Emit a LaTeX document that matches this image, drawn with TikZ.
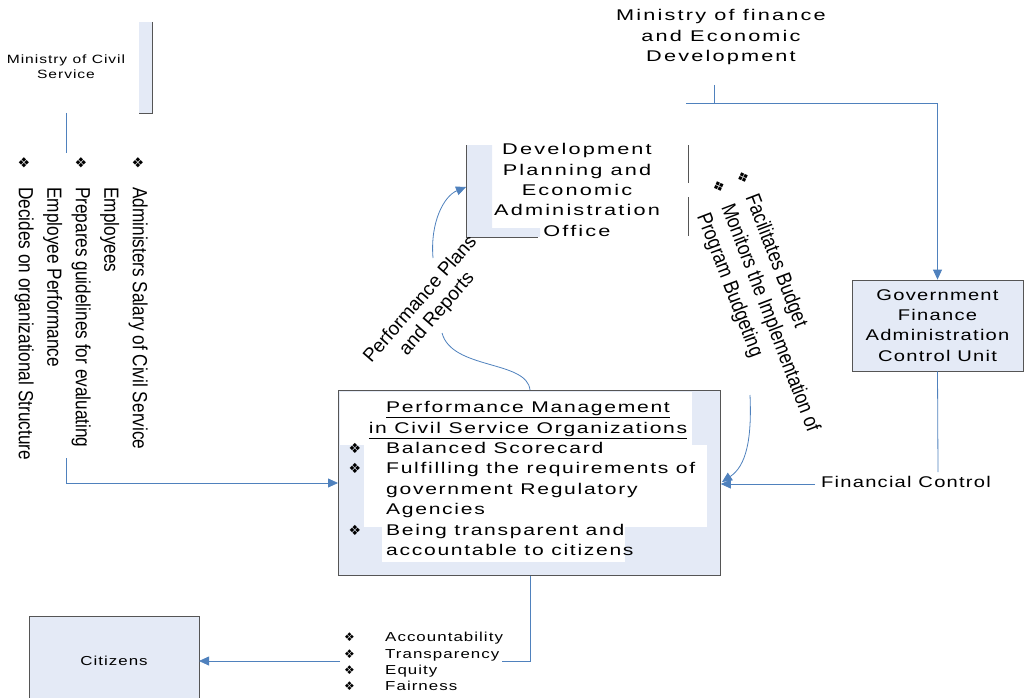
\documentclass[tikz,border=0pt]{standalone}
\usepackage{fontspec}
\setmainfont{Liberation Sans}[FakeStretch=1.3,LetterSpace=8]
\newfontfamily\widefont{Liberation Sans}[FakeStretch=1.4,LetterSpace=14]
\newfontfamily\pmfont{Liberation Sans}[FakeStretch=1.36,LetterSpace=11]
\newfontfamily\narrowfont{Liberation Sans}[FakeStretch=0.84]
\newfontfamily\plainfont{Liberation Sans}
\newfontfamily\bulfont{DejaVu Sans}
\usetikzlibrary{arrows.meta}

\definecolor{boxfill}{RGB}{228,234,246}
\definecolor{boxline}{RGB}{85,85,85}
\definecolor{linkblue}{RGB}{79,129,189}
\newcommand{\bul}{{\bulfont\fontsize{14}{14}\selectfont\char"2756}}
\newcommand{\sbul}{{\bulfont\fontsize{12}{12}\selectfont\char"2756}}

\begin{document}
\begin{tikzpicture}[x=1pt,y=-1pt,
    conn/.style={draw=linkblue, line width=0.8pt},
    arr/.style={conn, -{Triangle[length=10pt,width=9pt]}, fill=none},
    box/.style={draw=boxline, fill=boxfill, line width=0.8pt},
    lbl/.style={inner sep=0pt, align=center},
  ]
\useasboundingbox (0,0) rectangle (1027,698);

% Ministry of Civil Service
\fill[boxfill] (139,22) rectangle (152,113);
\draw[boxline, line width=0.8pt] (152,22) -- (152,113) -- (139,113);
\node[lbl, font=\fontsize{12}{15}\selectfont] (mcs) at (66,67) {Ministry of Civil\\Service};
\node[lbl, align=left, rotate=-90, anchor=north west,
      font=\narrowfont\fontsize{20.5}{28.5}\selectfont] (tasks) at (148,156)
  {\makebox[31pt][l]{\bul}Administers Salary of Civil Service\\
   \hspace*{31pt}Employees\\
   \makebox[31pt][l]{\bul}Prepares guidelines for evaluating\\
   \hspace*{31pt}Employee Performance\\
   \makebox[31pt][l]{\bul}Decides on organizational Structure};
\coordinate (civA) at (66,113);
\coordinate (civB) at (66,153);
\coordinate (civC) at (66,458);
\draw[conn] (civA) -- (civB);

% Development Planning and Economic Administration Office
\fill[boxfill] (466,145) -- (492,145) -- (492,228) -- (540,228) -- (540,237) -- (466,237) -- cycle;
\draw[boxline, line width=0.8pt] (466,145) -- (466,237) -- (538,237);
\draw[boxline, line width=0.8pt] (688,145) -- (688,183) (688,197) -- (688,236);
\node[lbl, font=\widefont\fontsize{15.5}{20.3}\selectfont] (dpo) at (577,190)
  {Development\\Planning and\\Economic\\Administration\\Office};

% Ministry of finance
\node[lbl, font=\widefont\fontsize{15.5}{20.5}\selectfont] (mfed) at (721,37)
  {Ministry of finance\\and Economic\\Development};
\coordinate (finA) at (714,85);
\coordinate (finB) at (714,103);
\coordinate (finL) at (686,103);

% Government Finance Administration Control Unit
\node[box, lbl, minimum width=171pt, minimum height=91pt,
      font=\fontsize{15.5}{20.3}\selectfont] (gfacu) at (937.5,325.5)
  {Government\\Finance\\Administration\\Control Unit};
\node[lbl, font=\fontsize{15.5}{20}\selectfont] (fc) at (906,482) {Financial Control};
\coordinate (fcA) at (938,472);
\coordinate (fcB) at (815,484);

% Performance Management box
\node[box, minimum width=382pt, minimum height=185pt, anchor=north west] (pm) at (338,390) {};
\fill[white] (340,392) rectangle (692,445);
\fill[white] (364,445) rectangle (707,527);
\fill[white] (382,527) rectangle (625,562);
\node[lbl, font=\pmfont\fontsize{15.5}{20.5}\selectfont] (pmtitle) at (528,420)
  {\underline{Performance Management}\\\underline{in Civil Service Organizations}};
\node[lbl, align=left, anchor=north west, font=\pmfont\fontsize{15.5}{20.5}\selectfont] (pmitems) at (386,442)
  {\llap{\bul\hspace{25pt}}Balanced Scorecard\\
   \llap{\bul\hspace{25pt}}Fulfilling the requirements of\\
   government Regulatory\\
   Agencies\\
   \llap{\bul\hspace{25pt}}Being transparent and\\
   accountable to citizens};

% Performance plans and reports
\node[lbl, rotate=49, font=\plainfont\fontsize{19}{22}\selectfont] (ppr) at (429,307)
  {Performance Plans\\and Reports};
\coordinate (pprA) at (442,333);
\coordinate (pprB) at (433,258);
\coordinate (dpoIn) at (466,187);
\draw[conn] (pm.north -| 530,0) .. controls (527,360) and (452,370) .. (pprA);
\draw[arr] (pprB) .. controls (430,222) and (444,196) .. (dpoIn);

% Budget tasks
\node[lbl, align=left, rotate=-69, font=\narrowfont\fontsize{21}{26}\selectfont] (budget) at (765,306)
  {\makebox[26pt][l]{\bul}Facilitates Budget\\
   \makebox[26pt][l]{\bul}Monitors the Implementation of\\
   \hspace*{26pt}Program Budgeting};
\coordinate (budA) at (750,395);
\coordinate (pmR) at (722,482);
\draw[arr] (budA) .. controls (752,440) and (746,466) .. (pmR);

% Citizens
\fill[boxfill] (29,616) rectangle (199,698);
\draw[boxline, line width=0.8pt] (29,698) -- (29,616) -- (199,616) -- (199,698);
\node[lbl, font=\fontsize{13}{15}\selectfont] (cit) at (114,661) {Citizens};
\coordinate (citR) at (199,661);
\node[lbl, align=left, anchor=west, font=\fontsize{13}{16.3}\selectfont] (vals) at (344,661.5)
  {\makebox[41pt][l]{\sbul}Accountability\\
   \makebox[41pt][l]{\sbul}Transparency\\
   \makebox[41pt][l]{\sbul}Equity\\
   \makebox[41pt][l]{\sbul}Fairness};
\coordinate (valsL) at (340,661);
\coordinate (valsR) at (502,661);

% connectors
\draw[arr] (civC) |- (pm.west |- 0,483);
\draw[conn] (finA) -- (finB);
\draw[arr] (finL) -| (gfacu.north);
\draw[conn] (gfacu.south) -- (fcA);
\draw[arr] (fcB) -- (pm.east |- fcB);
\draw[conn] (pm.south -| 530,0) |- (valsR);
\draw[arr] (valsL) -- (citR);
\end{tikzpicture}
\end{document}
